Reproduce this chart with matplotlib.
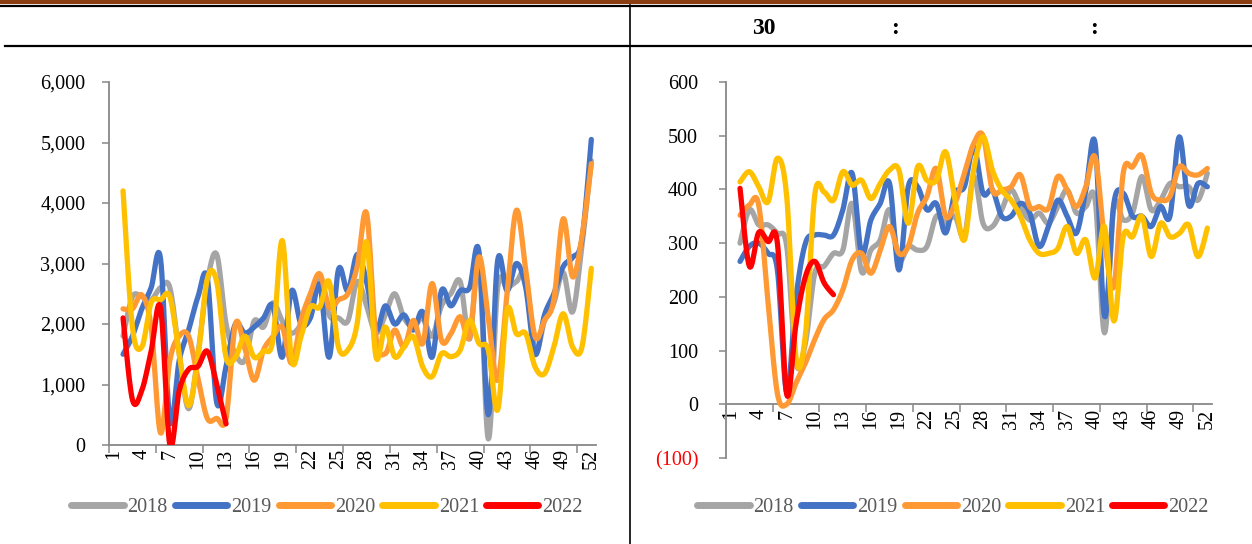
import numpy as np
import matplotlib
matplotlib.use("Agg")
import matplotlib.pyplot as plt
from matplotlib.lines import Line2D
from matplotlib.patches import Rectangle
from matplotlib.ticker import FuncFormatter

plt.rcParams["font.family"] = ["Liberation Serif", "DejaVu Serif"]

W, H = 1252, 544

YEARS = ["2018", "2019", "2020", "2021", "2022"]
COLORS = ["#A5A5A5", "#4472C4", "#FF9933", "#FFC000", "#FF0000"]

# week 1 is empty in both charts, series start at week 2
weeks = np.arange(2, 53)
weeks_2022_left = np.arange(2, 14)
weeks_2022_right = np.arange(2, 13)
xtick_labels = np.arange(1, 53, 3)

# ---- left chart (0 - 6,000)
left_2018 = [1800, 2450, 2450, 2400, 2600, 2600, 1500, 600, 1500, 2700,
             3150, 2000, 1500, 1400, 2050, 1950, 2350, 2050, 1850, 2000,
             2400, 2800, 2150, 2100, 2050, 2700, 2300, 1850, 2150, 2500,
             2100, 1950, 2100, 1800, 2300, 2500, 2700, 1750, 3050, 100,
             2600, 2600, 2700, 2800, 1550, 2050, 2350, 2850, 2200, 3300,
             4700]
left_2019 = [1500, 1800, 2250, 2600, 3080, 400, 1400, 1900, 2450, 2750,
             700, 1300, 2000, 1850, 1950, 2100, 2300, 1450, 2550, 2000,
             2100, 2650, 1450, 2900, 2550, 3150, 2700, 1900, 2300, 2000,
             2150, 1900, 2200, 1450, 2550, 2300, 2550, 2600, 3200, 500,
             3050, 2550, 3000, 2600, 1500, 2150, 2500, 2950, 3100, 3400,
             5050]
left_2020 = [2250, 2250, 2480, 1950, 200, 1400, 1800, 1800, 1100, 440,
             440, 440, 2000, 1600, 1070, 1570, 1790, 1950, 1350, 2060,
             2500, 2830, 2280, 2400, 2500, 2950, 3830, 1790, 1510, 1900,
             1620, 2060, 1680, 2670, 1730, 1840, 2120, 1790, 3110, 2100,
             1070, 2500, 3880, 2890, 1790, 2060, 2400, 3740, 2780, 3440,
             4650]
left_2021 = [4200, 1950, 1620, 2350, 2400, 2450, 1500, 650, 1450, 2750,
             2700, 1450, 1450, 1800, 1450, 1550, 1730, 3380, 1400, 1790,
             2280, 2280, 2700, 1620, 1570, 2010, 3360, 1460, 1950, 1460,
             1620, 1790, 1290, 1130, 1510, 1460, 1570, 2060, 1680, 1570,
             580, 2230, 1840, 1840, 1290, 1180, 1620, 2170, 1620, 1620,
             2920]
left_2022 = [2100, 750, 900, 1550, 2270, 0, 900, 1250, 1300, 1550, 1000, 350]

# ---- right chart (-100 - 600)
right_2018 = [300, 362, 334, 334, 318, 294, 77, 114, 244, 257,
              281, 287, 374, 247, 287, 306, 362, 269, 294, 287,
              294, 350, 337, 350, 312, 424, 337, 331, 362, 399,
              368, 343, 356, 337, 368, 399, 356, 368, 380, 133,
              368, 343, 356, 424, 362, 380, 411, 405, 405, 380,
              430]
right_2019 = [266, 294, 300, 281, 250, 22, 200, 300, 315, 315,
              315, 362, 430, 281, 343, 374, 411, 250, 405, 405,
              362, 374, 319, 393, 405, 479, 393, 399, 350, 350,
              374, 356, 294, 331, 380, 350, 319, 399, 485, 164,
              374, 393, 350, 350, 331, 368, 350, 498, 371, 411,
              405]
right_2020 = [352, 371, 371, 190, 20, 0, 40, 77, 121, 158,
              176, 213, 269, 281, 244, 287, 331, 281, 294, 356,
              387, 439, 350, 374, 430, 485, 500, 399, 399, 405,
              427, 368, 368, 365, 424, 399, 368, 405, 460, 306,
              220, 430, 442, 463, 393, 380, 387, 442, 430, 427,
              439]
right_2021 = [414, 433, 405, 377, 458, 386, 86, 130, 390, 395,
              380, 433, 408, 417, 383, 411, 436, 436, 337, 442,
              417, 417, 470, 381, 306, 436, 498, 436, 399, 380,
              350, 306, 281, 281, 290, 331, 281, 306, 235, 331,
              155, 312, 312, 350, 275, 337, 312, 318, 334, 275,
              328]
right_2022 = [402, 257, 320, 303, 300, 18, 151, 238, 266, 226, 204]


def px(x):
    return x / W


def py(y):
    return 1 - y / H


def smooth(x, y, steps=14):
    # bezier through the points, same idea as excel "smoothed line"
    pts = np.column_stack([x, y]).astype(float)
    pts = np.vstack([pts[0], pts, pts[-1]])
    t = np.linspace(0, 1, steps, endpoint=False)[:, None]
    out = []
    for i in range(1, len(pts) - 2):
        p0, p1, p2, p3 = pts[i - 1], pts[i], pts[i + 1], pts[i + 2]
        c1 = p1 + (p2 - p0) / 6
        c2 = p2 - (p3 - p1) / 6
        seg = ((1 - t) ** 3) * p1 + 3 * ((1 - t) ** 2) * t * c1 \
            + 3 * (1 - t) * t ** 2 * c2 + t ** 3 * p2
        out.append(seg)
    out.append(pts[-2][None, :])
    out = np.vstack(out)
    return out[:, 0], out[:, 1]


def style_axis(ax, ymin, ymax, ystep, ypad):
    ax.set_xlim(0.5, 52.5)
    ax.set_ylim(ymin, ymax)
    for s in ["top", "right"]:
        ax.spines[s].set_visible(False)
    for s in ["left", "bottom"]:
        ax.spines[s].set_color("#888888")
        ax.spines[s].set_linewidth(1.3)
    ax.set_yticks(np.arange(ymin, ymax + 1, ystep))
    ax.tick_params(axis="y", length=5, width=1.1, color="#888888",
                   pad=ypad, labelsize=14.5)
    ax.set_xticks(xtick_labels)
    ax.set_xticklabels([str(w) for w in xtick_labels])
    ax.tick_params(axis="x", which="major", length=0, pad=3, labelsize=14.5,
                   labelrotation=90)
    ax.set_xticks(np.arange(0.5, 53, 5), minor=True)
    ax.tick_params(axis="x", which="minor", length=6, width=1.1,
                   color="#888888")
    ax.patch.set_visible(False)


def draw_series(ax, series, w2022):
    for i, vals in enumerate(series):
        xs = w2022 if i == 4 else weeks
        sx, sy = smooth(xs, vals)
        ax.plot(sx, sy, color=COLORS[i], lw=3.8, solid_capstyle="round",
                label=YEARS[i], zorder=2 + i)


fig = plt.figure(figsize=(W / 100, H / 100), dpi=100)

# header band
fig.add_artist(Rectangle((0, py(4)), 1, 4 / H, transform=fig.transFigure,
                         color="#8B3E12", lw=0))
fig.add_artist(Line2D([0, 1], [py(5.5), py(5.5)], transform=fig.transFigure,
                      color="black", lw=1.6))
fig.add_artist(Line2D([px(5), 1], [py(46), py(46)], transform=fig.transFigure,
                      color="black", lw=1.6))
fig.add_artist(Line2D([px(630), px(630)], [py(5), 0],
                      transform=fig.transFigure, color="black", lw=1.2))
for x_, s_ in [(764, "30"), (895, ":"), (1094, ":")]:
    fig.text(px(x_), py(28), s_, fontsize=17, fontweight="bold",
             ha="center", va="center")

# left chart
ax1 = fig.add_axes([px(109), py(445), px(596) - px(109), py(82) - py(445)])
style_axis(ax1, 0, 6000, 1000, 12)
ax1.yaxis.set_major_formatter(FuncFormatter(lambda v, p: f"{v:,.0f}"))
draw_series(ax1, [left_2018, left_2019, left_2020, left_2021, left_2022],
            weeks_2022_left)

# right chart, x axis crosses at 0
ax2 = fig.add_axes([px(726), py(458), px(1212) - px(726), py(82) - py(458)])
ax2.spines["bottom"].set_position(("data", 0))
style_axis(ax2, -100, 600, 100, 15)
ax2.spines["left"].set_bounds(-100, 600)
ax2.yaxis.set_major_formatter(
    FuncFormatter(lambda v, p: f"({abs(v):.0f})" if v < 0 else f"{v:.0f}"))
draw_series(ax2, [right_2018, right_2019, right_2020, right_2021, right_2022],
            weeks_2022_right)
fig.canvas.draw()
for lab in ax2.get_yticklabels():
    if lab.get_text().startswith("("):
        lab.set_color("red")

# legends under each chart
for ax, cx in [(ax1, 327), (ax2, 953)]:
    handles, labels = ax.get_legend_handles_labels()
    leg = fig.legend(handles, labels, loc="center",
                     bbox_to_anchor=(px(cx), py(507)), ncol=5, frameon=False,
                     fontsize=14.5, handlelength=2.6, handletextpad=0.2,
                     columnspacing=0.35)
    for t in leg.get_texts():
        t.set_color("#595959")
    for h in leg.legend_handles:
        h.set_linewidth(5)
        h.set_solid_capstyle("round")

fig.savefig("out.png", dpi=100)
